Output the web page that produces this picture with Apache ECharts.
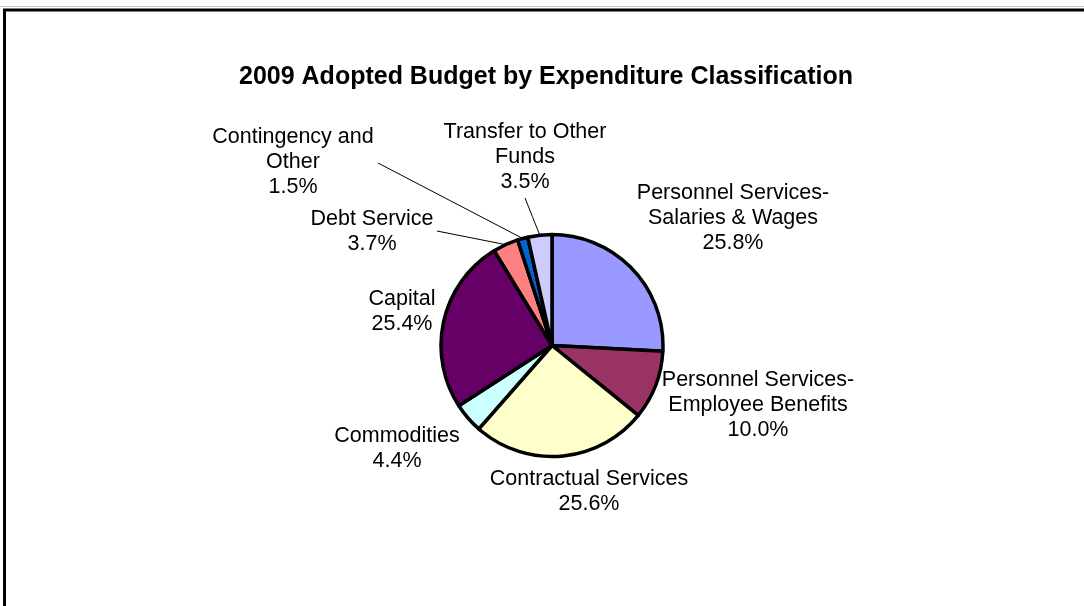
<!DOCTYPE html>
<html>
<head>
<meta charset="utf-8">
<title>2009 Adopted Budget by Expenditure Classification</title>
<script src="https://cdn.jsdelivr.net/npm/echarts@6/dist/echarts.min.js"></script>
<style>
  html, body { margin: 0; padding: 0; background: #ffffff; }
  #chart { width: 1084px; height: 606px; }
</style>
</head>
<body>
<div id="chart"></div>
<script>
// Expenditure classes, clockwise from 12 o'clock
const categories = [
  'Personnel Services-\nSalaries & Wages',
  'Personnel Services-\nEmployee Benefits',
  'Contractual Services',
  'Commodities',
  'Capital',
  'Debt Service',
  'Contingency and\nOther',
  'Transfer to Other\nFunds'
];
// Share of the adopted budget, percent
const shares = [25.8, 10.0, 25.6, 4.4, 25.4, 3.7, 1.5, 3.5];
const sliceColors = ['#9999FF', '#993366', '#FFFFCC', '#CCFFFF', '#660066', '#FF8080', '#0066CC', '#CCCCFF'];
// Classes whose label sits away from the pie and is joined to it by a leader line
const withLeader = [false, false, false, false, false, true, true, true];

// Label placement (block centre) and leader-line end next to the label
const labelPlace = [
  { x: 733, y: 218 },
  { x: 758, y: 405 },
  { x: 589, y: 492 },
  { x: 397, y: 449 },
  { x: 402, y: 312 },
  { x: 372, y: 232, end: [437, 231] },
  { x: 293, y: 162, end: [378, 163] },
  { x: 525, y: 157, end: [525, 198] }
];

const chart = echarts.init(document.getElementById('chart'), null, { renderer: 'canvas' });

const data = categories.map((name, i) => ({
  name: name,
  value: shares[i],
  itemStyle: { color: sliceColors[i] },
  labelLine: { show: withLeader[i] }
}));

chart.setOption({
  animation: false,
  backgroundColor: '#ffffff',
  title: {
    text: '2009 Adopted Budget by Expenditure Classification',
    left: 541,
    top: 60,
    textAlign: 'center',
    textStyle: {
      fontFamily: 'Liberation Sans, Arial, sans-serif',
      fontWeight: 'bold',
      fontSize: 25,
      color: '#000000'
    }
  },
  graphic: [
    { type: 'line', shape: { x1: 0, y1: 6.5, x2: 1084, y2: 6.5 }, style: { stroke: '#c8c8c8', lineWidth: 1 }, silent: true },
    { type: 'rect', shape: { x: 4.5, y: 10, width: 1200, height: 800 }, style: { fill: null, stroke: '#000000', lineWidth: 3 }, silent: true }
  ],
  series: [{
    type: 'pie',
    center: [552, 345.5],
    radius: 111,
    startAngle: 90,
    clockwise: true,
    avoidLabelOverlap: false,
    itemStyle: { borderColor: '#000000', borderWidth: 3.5 },
    emphasis: { disabled: true },
    label: {
      show: true,
      position: 'outside',
      formatter: p => p.name + '\n' + p.value.toFixed(1) + '%',
      fontFamily: 'Liberation Sans, Arial, sans-serif',
      fontSize: 21.5,
      lineHeight: 25,
      color: '#000000',
      align: 'center'
    },
    labelLine: {
      length: 10,
      length2: 10,
      lineStyle: { color: '#000000', width: 1 }
    },
    labelLayout: function (params) {
      const place = labelPlace[params.dataIndex];
      const out = { x: place.x, y: place.y, align: 'center', verticalAlign: 'middle' };
      if (place.end && params.labelLinePoints) {
        const a = params.labelLinePoints[0];
        const b = place.end;
        out.labelLinePoints = [a, [(a[0] + b[0]) / 2, (a[1] + b[1]) / 2], b];
      }
      return out;
    },
    data: data
  }]
});
</script>
</body>
</html>
